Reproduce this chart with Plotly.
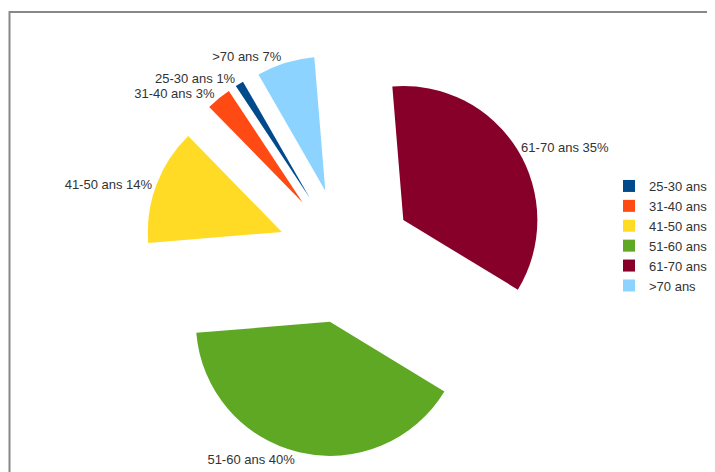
import plotly.graph_objects as go

categories = ["25-30 ans", "31-40 ans", "41-50 ans", "51-60 ans", "61-70 ans", ">70 ans"]
values = [1, 3, 14, 40, 35, 7]
colors = ["#004a8c", "#ff4a14", "#ffdb26", "#5ea823", "#86002a", "#8cd3ff"]

# page body has an 8px margin, so the figure is drawn 8px right/down
W, H = 707, 464
cx, cy, half = 337.5, 247.7, 202.0

fig = go.Figure(go.Pie(
    labels=categories,
    values=values,
    sort=False,
    direction="counterclockwise",
    rotation=-33.5,
    pull=[0.507] * len(values),
    marker=dict(colors=colors, line=dict(width=0)),
    textposition="outside",
    texttemplate="%{label} %{percent:.0%}",
    textfont=dict(family="Liberation Sans, Arial, sans-serif", size=13, color="#333333"),
    hoverinfo="label+percent",
    domain=dict(x=[(cx - half) / W, (cx + half) / W],
                y=[(H - cy - half) / H, (H - cy + half) / H]),
))

fig.update_layout(
    width=W, height=H,
    margin=dict(l=0, r=0, t=0, b=0, autoexpand=False),
    paper_bgcolor="white",
    plot_bgcolor="white",
    font=dict(family="Liberation Sans, Arial, sans-serif", size=13, color="#333333"),
    legend=dict(x=601 / W, y=(H - 163) / H, xanchor="left", yanchor="top",
                font=dict(size=13, color="#333333"), bgcolor="rgba(0,0,0,0)",
                itemwidth=30, traceorder="normal"),
    shapes=[dict(type="rect", xref="paper", yref="paper",
                 x0=1.5 / W, x1=1.05, y0=-0.05, y1=(H - 4) / H,
                 line=dict(color="#888888", width=2), layer="below")],
)

fig.write_html("out.html")
